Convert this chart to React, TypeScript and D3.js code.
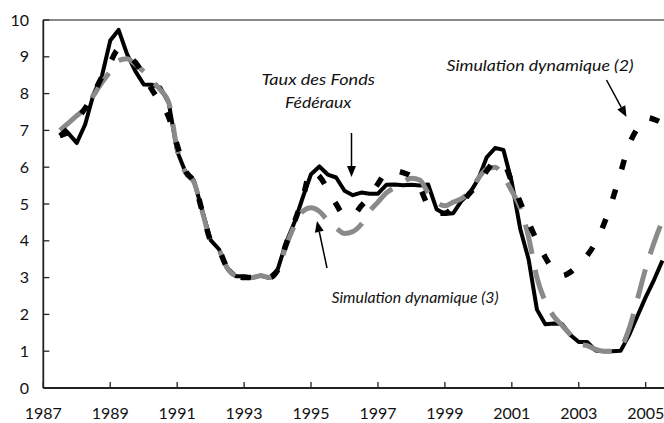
import React from "react";
import * as d3 from "d3";

const startYear = 1987.5;
const xTicks = [1987, 1989, 1991, 1993, 1995, 1997, 1999, 2001, 2003, 2005];
const yTicks = [0, 1, 2, 3, 4, 5, 6, 7, 8, 9, 10];

// Quarterly values from 1987 Q3 to 2005 Q3
const actual = [
  6.84, 6.92,
  6.66, 7.16, 7.98, 8.47,
  9.44, 9.73, 9.08, 8.61,
  8.25, 8.24, 8.16, 7.74,
  6.43, 5.86, 5.64, 4.82,
  4.02, 3.77, 3.26, 3.04,
  3.04, 3.0, 3.06, 2.99,
  3.21, 3.94, 4.49, 5.17,
  5.81, 6.02, 5.8, 5.72,
  5.36, 5.24, 5.31, 5.28,
  5.28, 5.52, 5.53, 5.51,
  5.52, 5.5, 5.53, 4.86,
  4.73, 4.75, 5.09, 5.31,
  5.68, 6.27, 6.52, 6.47,
  5.59, 4.33, 3.5, 2.13,
  1.73, 1.75, 1.74, 1.44,
  1.25, 1.25, 1.02, 1.0,
  1.0, 1.01, 1.43, 1.95,
  2.47, 2.94, 3.46,
];

const sim2 = [
  6.85, 7.05,
  7.3, 7.6, 8.0, 8.45,
  8.85, 9.2, 9.05, 8.85,
  8.5, 8.1, 7.75, 7.35,
  6.6, 5.9, 5.6, 4.8,
  4.0, 3.75, 3.25, 3.05,
  3.0, 3.0, 3.05, 3.0,
  3.2, 3.9, 4.5, 5.15,
  5.9, 5.75, 5.4, 5.0,
  4.7, 4.7, 4.95, 5.2,
  5.55, 5.85, 5.9, 5.85,
  5.75, 5.45, 4.95, 4.75,
  4.75, 4.9, 5.05, 5.3,
  5.55, 5.9, 6.15, 6.1,
  5.6, 5.05, 4.5, 4.0,
  3.55, 3.2, 3.05, 3.15,
  3.35, 3.6, 3.95, 4.45,
  5.1, 5.85, 6.6, 7.05,
  7.35, 7.3, 7.2,
];

const sim3 = [
  7.0, 7.2,
  7.4, 7.6, 7.95, 8.3,
  8.6, 8.9, 8.95, 8.8,
  8.6, 8.35, 8.1, 7.75,
  6.5, 5.85, 5.6, 4.8,
  4.0, 3.75, 3.25, 3.05,
  3.0, 3.0, 3.05, 3.0,
  3.2, 3.85, 4.4, 4.8,
  4.9, 4.8, 4.55, 4.35,
  4.2, 4.25, 4.45, 4.8,
  5.05, 5.3, 5.45, 5.6,
  5.7, 5.65, 5.3, 5.05,
  4.95, 5.05, 5.15, 5.35,
  5.7, 5.95, 6.0, 5.75,
  5.35, 4.9, 4.1, 3.0,
  2.35, 1.95, 1.7, 1.45,
  1.2, 1.15, 1.05, 1.0,
  1.0, 1.1, 1.6, 2.4,
  3.25, 3.95, 4.55,
];

const W = 664;
const H = 423;

const x = d3.scaleLinear().domain([1987, 2005]).range([43.3, 645.7]);
const y = d3.scaleLinear().domain([0, 10]).range([388, 20]);

const toPts = (arr: number[]) => arr.map((v, i) => [startYear + i * 0.25, v] as [number, number]);

const lineLin = d3.line<[number, number]>().x((d) => x(d[0])).y((d) => y(d[1]));
const lineSmooth = d3
  .line<[number, number]>()
  .x((d) => x(d[0]))
  .y((d) => y(d[1]))
  .curve(d3.curveMonotoneX);

const font = "Lato, 'Open Sans', 'DejaVu Sans', sans-serif";

function Arrow({ x1, y1, x2, y2 }: { x1: number; y1: number; x2: number; y2: number }) {
  const ang = Math.atan2(y2 - y1, x2 - x1);
  const len = 11;
  const hw = 4.5;
  const bx = x2 - len * Math.cos(ang);
  const by = y2 - len * Math.sin(ang);
  const px = -Math.sin(ang) * hw;
  const py = Math.cos(ang) * hw;
  return (
    <g>
      <line x1={x1} y1={y1} x2={bx} y2={by} stroke="#000" strokeWidth={1.5} />
      <polygon points={`${x2},${y2} ${bx + px},${by + py} ${bx - px},${by - py}`} fill="#000" />
    </g>
  );
}

export default function App() {
  const x0 = x(1987);
  const xEnd = W;
  return (
    <svg
      width={W}
      height={H}
      style={{ position: "absolute", left: 0, top: 0, background: "#fff" }}
      fontFamily={font}
    >
      {/* top border */}
      <line x1={x0} y1={y(10)} x2={xEnd} y2={y(10)} stroke="#888" strokeWidth={2} />
      {/* y axis */}
      <line x1={x0} y1={y(10)} x2={x0} y2={y(0)} stroke="#222" strokeWidth={1.8} />
      {/* x axis */}
      <line x1={x0} y1={y(0)} x2={xEnd} y2={y(0)} stroke="#222" strokeWidth={1.8} />
      {yTicks.map((t) => (
        <g key={"y" + t}>
          <line x1={x0} x2={x0 + 6} y1={y(t)} y2={y(t)} stroke="#222" strokeWidth={1.3} />
          <text x={29} y={y(t) + 5.5} textAnchor="end" fontSize={16} fill="#111">
            {t}
          </text>
        </g>
      ))}
      {xTicks.map((t) => (
        <g key={"x" + t}>
          <line x1={x(t)} x2={x(t)} y1={y(0)} y2={y(0) - 6} stroke="#222" strokeWidth={1.3} />
          <text x={x(t)} y={419} textAnchor="middle" fontSize={16} fill="#111">
            {t}
          </text>
        </g>
      ))}

      <path d={lineLin(toPts(actual)) || ""} fill="none" stroke="#000" strokeWidth={4} strokeLinejoin="round" />
      <path
        d={lineSmooth(toPts(sim3)) || ""}
        fill="none"
        stroke="#8a8a8a"
        strokeWidth={5}
        strokeDasharray="30,16"
      />
      <path
        d={lineSmooth(toPts(sim2)) || ""}
        fill="none"
        stroke="#000"
        strokeWidth={5.5}
        strokeDasharray="10,21"
      />

      <g fontStyle="italic" fontSize={15} fill="#111">
        <text x={261.5} y={85} textLength={113.5} lengthAdjust="spacingAndGlyphs">
          Taux des Fonds
        </text>
        <text x={285} y={108} textLength={66.5} lengthAdjust="spacingAndGlyphs">
          Fédéraux
        </text>
        <text x={446.5} y={71} textLength={187} lengthAdjust="spacingAndGlyphs">
          Simulation dynamique (2)
        </text>
        <text x={331.5} y={303} textLength={167} lengthAdjust="spacingAndGlyphs">
          Simulation dynamique (3)
        </text>
      </g>

      <Arrow x1={351.5} y1={133} x2={351.5} y2={177} />
      <Arrow x1={327} y1={268} x2={317} y2={221} />
      <Arrow x1={606.5} y1={80} x2={626.5} y2={117} />
    </svg>
  );
}
